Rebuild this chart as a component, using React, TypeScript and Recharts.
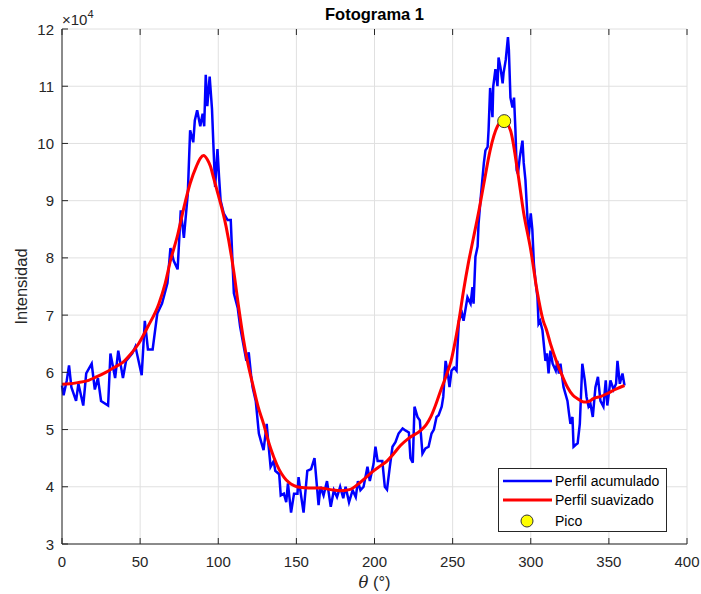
import React from 'react';
import { LineChart, Line, XAxis, YAxis, CartesianGrid, Legend } from 'recharts';

const xTicks = [0, 50, 100, 150, 200, 250, 300, 350, 400];
const yTicks = [30000, 40000, 50000, 60000, 70000, 80000, 90000, 100000, 110000, 120000];

// Perfil acumulado
const acumuladoAngulos = [
  0, 1, 3, 4.5, 6, 9, 10.5, 13.6, 15.5, 19,
  21, 23, 25, 29.5, 31, 34, 36, 39, 41, 45,
  47, 51, 53, 55, 58, 61, 64, 67.5, 69.4, 71.5,
  74, 76, 78, 80.5, 82, 84, 85, 86.5, 88.5, 90,
  91, 92, 93, 94.5, 96, 97, 98, 99.5, 100.5, 101.5,
  103.5, 106, 108, 109, 110, 112.5, 114, 116, 118, 119.5,
  121, 122, 124, 126, 127.5, 129, 131, 132, 133.5, 135.5,
  136.5, 139, 140, 142, 143.5, 144.6, 146.6, 148.5, 150.7, 151.4,
  152.5, 154.6, 157, 159.4, 161.6, 164.2, 165.4, 167.4, 169.6, 172,
  174, 176, 178, 180, 181.5, 183.7, 186, 188, 189.4, 191,
  193, 195.5, 197, 199.4, 200.6, 202, 205, 206.6, 208, 209.8,
  211.5, 213.4, 215.4, 218, 220, 222, 223, 224.5, 225.6, 227.5,
  229, 230.7, 232.6, 234.6, 236.5, 238, 239.7, 241, 243, 244,
  245.5, 246.7, 248, 249.3, 251, 252.5, 253, 254, 256, 257,
  259.5, 261.5, 262.7, 263.4, 264.6, 266, 266.6, 268, 269, 270,
  271, 272.4, 273, 274, 275.5, 276, 277.4, 278.7, 279.4, 280.6,
  282, 282.6, 284, 285.4, 286, 287, 288.3, 289.3, 290.2, 291,
  291.8, 293, 294.7, 295.5, 296.6, 297.6, 298.6, 300, 301, 302,
  303, 304.3, 305, 306, 307.5, 309.4, 310.4, 311.4, 312.6, 314,
  316, 317, 318, 319, 321, 323.5, 324.5, 325.4, 326.7, 327.4,
  328.6, 330, 331.4, 333, 334.6, 335.7, 337, 338.2, 339.7, 341.4,
  343, 344.6, 346.5, 348, 349, 351, 353, 354.6, 355.5, 357,
  358.7, 360,
];
const acumuladoValores = [
  57700, 56000, 58500, 61200, 57400, 55000, 58000, 54200, 59800, 61500,
  57000, 59000, 55000, 54200, 63300, 59000, 63800, 59000, 62000, 63300,
  64500, 59500, 69000, 64000, 64000, 70300, 72000, 75600, 81700, 79500,
  78000, 88300, 83500, 91200, 102300, 100200, 104000, 105800, 103000, 105200,
  103000, 112000, 106500, 111700, 106000, 99000, 92400, 99000, 94200, 90000,
  87800, 86600, 86600, 80000, 73800, 71200, 68000, 65000, 62000, 63500,
  59500, 57400, 55000, 49300, 47800, 46400, 51000, 47800, 43500, 44500,
  42800, 42200, 38500, 38800, 37300, 40600, 35500, 38800, 38800, 41700,
  39400, 35500, 42800, 43100, 45000, 36800, 40000, 38500, 41000, 36500,
  39400, 38200, 40000, 38000, 40000, 37300, 39400, 38200, 41000, 39400,
  40000, 43500, 41000, 44000, 47000, 44500, 44500, 40000, 39500, 43500,
  47000, 47800, 49300, 50200, 49800, 49500, 45000, 44200, 54000, 52200,
  51600, 45800, 46700, 47000, 49300, 50000, 52200, 52500, 54000, 55700,
  62000, 60300, 57400, 60300, 60800, 60300, 63800, 69000, 70300, 69000,
  73100, 72000, 74900, 72000, 80200, 82000, 86000, 90600, 93600, 96600,
  98800, 99400, 102300, 109700, 104600, 110000, 113000, 110000, 115000, 113300,
  110500, 112300, 114600, 118600, 116300, 108000, 106300, 108000, 102300, 95300,
  94700, 97600, 100500, 96600, 93600, 88400, 83600, 87800, 85000, 79000,
  76000, 73100, 68500, 69000, 67300, 62000, 63300, 59800, 63800, 61500,
  60300, 62000, 59800, 61500, 57400, 55000, 52800, 51000, 52200, 47000,
  47300, 47600, 51000, 61500, 58600, 55700, 54000, 54500, 52200, 57400,
  59200, 55000, 54000, 58600, 54200, 58600, 57000, 58000, 62000, 58000,
  59800, 57700,
];

// Perfil suavizado
const suavizadoAngulos = [
  0, 5, 10, 17, 22, 28, 33, 38.7, 44, 49,
  55, 62, 66, 69.4, 74, 78, 82, 86, 88.5, 90.6,
  93, 95, 97, 100, 105, 110, 113, 116, 119, 122,
  125.5, 129, 132, 135.5, 139, 142, 145, 148.5, 152, 158,
  165, 172, 178, 184, 191, 199, 204, 208, 212, 216.6,
  222, 229.4, 233, 236, 239, 242.6, 246, 249, 251, 254,
  257, 260, 263.4, 267, 270, 274, 278.7, 282.6, 287, 291.5,
  295.5, 300, 304, 308, 310, 312.6, 317, 320, 323.5, 327,
  330, 334, 337, 340, 345, 349, 354, 360,
];
const suavizadoValores = [
  57900, 58000, 58200, 58600, 59200, 60000, 60800, 61700, 63200, 65000,
  68000, 72000, 75500, 79500, 84000, 88800, 93000, 96000, 97400, 97900,
  97200, 96000, 94000, 91000, 85500, 77500, 71500, 66000, 61500, 58000,
  54000, 51000, 48000, 45200, 43000, 41700, 40800, 40200, 39900, 39800,
  39800, 39500, 39300, 39500, 40800, 42700, 43700, 44500, 45700, 47200,
  48500, 49800, 50800, 52200, 54200, 57000, 59500, 62000, 64500, 69000,
  74300, 79000, 83600, 88500, 93000, 98800, 103000, 104000, 102300, 95300,
  87800, 81400, 74300, 69000, 67500, 65000, 61500, 59500, 57400, 56000,
  55400, 54800, 54900, 55400, 55800, 56300, 57000, 57700,
];

const picoAngulo = 283;
const picoValor = 103900;

const acumulado = acumuladoAngulos.map((x, i) => ({ x, y: acumuladoValores[i] }));
const suavizado = suavizadoAngulos.map((x, i) => ({ x, y: suavizadoValores[i] }));
const pico = [{ x: picoAngulo, y: picoValor }];

const FONT = '"Liberation Sans", Arial, Helvetica, sans-serif';
const AXIS = '#262626';
const TICK = 6;
const PLOT_TOP = 29;

const BottomTick = ({ x, y, payload }: any) => (
  <g>
    <line x1={x} y1={y} x2={x} y2={y - TICK} stroke={AXIS} />
    <line x1={x} y1={PLOT_TOP} x2={x} y2={PLOT_TOP + TICK} stroke={AXIS} />
    <text x={x} y={y + 23} textAnchor="middle" fontSize={15} fill={AXIS} fontFamily={FONT}>
      {payload.value}
    </text>
  </g>
);

const TopTick = ({ x, y }: any) => <line x1={x} y1={y} x2={x} y2={y + TICK} stroke={AXIS} />;

const LeftTick = ({ x, y, payload }: any) => (
  <g>
    <line x1={x} y1={y} x2={x + TICK} y2={y} stroke={AXIS} />
    <text x={x - 8} y={y + 5.5} textAnchor="end" fontSize={15} fill={AXIS} fontFamily={FONT}>
      {payload.value / 10000}
    </text>
  </g>
);

const RightTick = ({ x, y }: any) => <line x1={x} y1={y} x2={x - TICK} y2={y} stroke={AXIS} />;

const LegendBox = () => (
  <div
    style={{
      width: 169,
      height: 64,
      border: `1px solid ${AXIS}`,
      background: '#fff',
      boxSizing: 'border-box',
    }}
  >
    <svg width={167} height={62} style={{ display: 'block' }}>
      <line x1={4} y1={12} x2={53} y2={12} stroke="#0000ff" strokeWidth={2.5} />
      <text x={56} y={17} fontSize={14} fill="#000" fontFamily={FONT}>Perfil acumulado</text>
      <line x1={4} y1={31} x2={53} y2={31} stroke="#ff0000" strokeWidth={3} />
      <text x={56} y={36} fontSize={14} fill="#000" fontFamily={FONT}>Perfil suavizado</text>
      <circle cx={28} cy={52} r={6} fill="#ffff00" stroke="#333" strokeWidth={1} />
      <text x={56} y={57} fontSize={14} fill="#000" fontFamily={FONT}>Pico</text>
    </svg>
  </div>
);

// Etiqueta del eje x, más el título y el multiplicador ×10^4
const XLabel = ({ viewBox }: any) => {
  const cx = viewBox.x + viewBox.width / 2;
  return (
    <g fontFamily={FONT}>
      <text x={cx} y={588} textAnchor="middle" fontSize={16.5} fill={AXIS}>
        <tspan fontStyle="italic" fontFamily='"DejaVu Serif", "Liberation Serif", serif'>θ</tspan>
        <tspan> (°)</tspan>
      </text>
      <text x={cx} y={20} textAnchor="middle" fontSize={16.5} fontWeight="bold" fill="#000">
        Fotograma 1
      </text>
      <text x={viewBox.x} y={25} fontSize={15} fill={AXIS}>
        {'\u00d710'}
        <tspan dy={-7} fontSize={11}>4</tspan>
      </text>
    </g>
  );
};

const YLabel = ({ viewBox }: any) => {
  const cy = viewBox.y + viewBox.height / 2;
  return (
    <text
      x={27}
      y={cy}
      transform={`rotate(-90, 27, ${cy})`}
      textAnchor="middle"
      fontSize={16.5}
      fill={AXIS}
      fontFamily={FONT}
    >
      Intensidad
    </text>
  );
};

export default function App() {
  return (
    <div style={{ position: 'absolute', left: 0, top: 0, width: 701, height: 594, background: '#fff' }}>
      <LineChart width={701} height={594} margin={{ top: PLOT_TOP, right: 14, bottom: 0, left: 0 }}>
        <CartesianGrid stroke="#e0e0e0" strokeWidth={1} />
        <XAxis
          dataKey="x"
          type="number"
          domain={[0, 400]}
          ticks={xTicks}
          height={50}
          tickSize={0}
          tickMargin={0}
          tick={BottomTick}
          axisLine={{ stroke: AXIS }}
          label={{ content: XLabel }}
        />
        <XAxis
          xAxisId="top"
          orientation="top"
          dataKey="x"
          type="number"
          domain={[0, 400]}
          allowDataOverflow
          ticks={xTicks}
          height={0}
          tickSize={0}
          tickMargin={0}
          tick={TopTick}
          axisLine={{ stroke: AXIS }}
        />
        <YAxis
          type="number"
          domain={[30000, 120000]}
          ticks={yTicks}
          width={62}
          tickSize={0}
          tickMargin={0}
          tick={LeftTick}
          axisLine={{ stroke: AXIS }}
          label={{ content: YLabel }}
        />
        <YAxis
          yAxisId="right"
          orientation="right"
          type="number"
          domain={[30000, 120000]}
          allowDataOverflow
          ticks={yTicks}
          width={0}
          tickSize={0}
          tickMargin={0}
          tick={RightTick}
          axisLine={{ stroke: AXIS }}
        />
        <Line
          data={acumulado}
          dataKey="y"
          type="linear"
          stroke="#0000ff"
          strokeWidth={2.5}
          dot={false}
          isAnimationActive={false}
        />
        <Line
          data={suavizado}
          dataKey="y"
          type="monotone"
          stroke="#ff0000"
          strokeWidth={3}
          dot={false}
          isAnimationActive={false}
        />
        <Line
          data={pico}
          dataKey="y"
          stroke="none"
          dot={{ r: 6.5, fill: '#ffff00', stroke: '#333', strokeWidth: 1 }}
          isAnimationActive={false}
        />
        <Legend
          layout="vertical"
          align="center"
          verticalAlign="middle"
          content={LegendBox}
          wrapperStyle={{ left: 498, top: 468, width: 169, height: 64 }}
        />
      </LineChart>
    </div>
  );
}
